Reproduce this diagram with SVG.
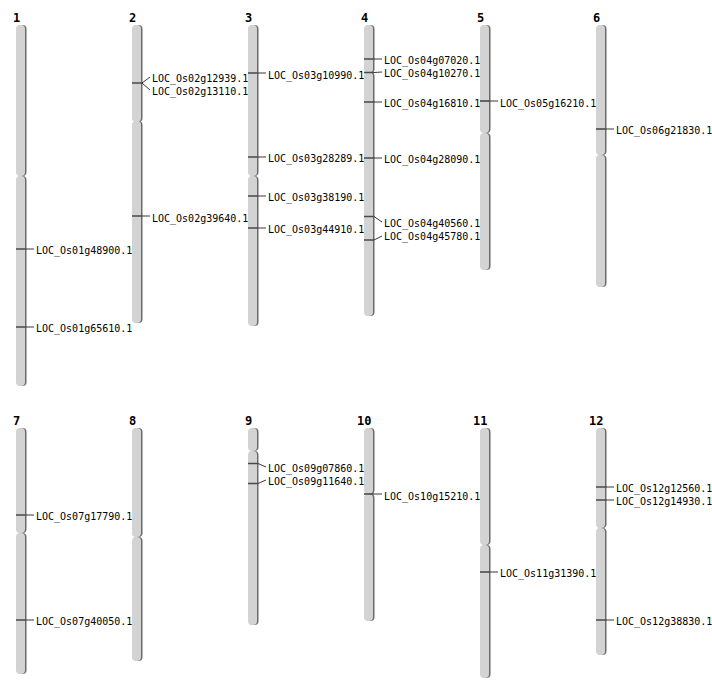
<svg xmlns="http://www.w3.org/2000/svg" width="712" height="700" viewBox="0 0 712 700">
<style>
.sh{fill:#6a6a6a}
.arm{fill:#d3d3d3}
.ttl{font-family:"DejaVu Sans Mono","Liberation Mono",monospace;font-size:12px;font-weight:bold;fill:#000}
.lbl{font-family:"DejaVu Sans Mono","Liberation Mono",monospace;font-size:10px;fill:#000}
.mk{stroke:#4a4a4a;stroke-width:1.6;fill:none}
.ln{stroke:#222;stroke-width:0.9;fill:none}
</style>
<rect width="712" height="700" fill="#fff"/>

<!-- Chromosomes -->
<g id="chr1">
<text class="ttl" x="13" y="22">1</text>
<rect class="sh" x="17.5" y="25" width="9" height="151" rx="4"/><rect class="sh" x="17.5" y="176" width="9" height="210" rx="4"/>
<rect class="arm" x="16" y="25" width="9" height="151" rx="4"/><rect class="arm" x="16" y="176" width="9" height="210" rx="4"/>
</g>
<g id="chr2">
<text class="ttl" x="129" y="22">2</text>
<rect class="sh" x="133.5" y="25" width="9" height="97" rx="4"/><rect class="sh" x="133.5" y="121" width="9" height="202" rx="4"/>
<rect class="arm" x="132" y="25" width="9" height="97" rx="4"/><rect class="arm" x="132" y="121" width="9" height="202" rx="4"/>
</g>
<g id="chr3">
<text class="ttl" x="245" y="22">3</text>
<rect class="sh" x="249.5" y="25" width="9" height="151" rx="4"/><rect class="sh" x="249.5" y="176" width="9" height="150" rx="4"/>
<rect class="arm" x="248" y="25" width="9" height="151" rx="4"/><rect class="arm" x="248" y="176" width="9" height="150" rx="4"/>
</g>
<g id="chr4">
<text class="ttl" x="361" y="22">4</text>
<rect class="sh" x="365.5" y="25" width="9" height="48" rx="4"/><rect class="sh" x="365.5" y="72" width="9" height="244" rx="4"/>
<rect class="arm" x="364" y="25" width="9" height="48" rx="4"/><rect class="arm" x="364" y="72" width="9" height="244" rx="4"/>
</g>
<g id="chr5">
<text class="ttl" x="477" y="22">5</text>
<rect class="sh" x="481.5" y="25" width="9" height="108" rx="4"/><rect class="sh" x="481.5" y="133" width="9" height="137" rx="4"/>
<rect class="arm" x="480" y="25" width="9" height="108" rx="4"/><rect class="arm" x="480" y="133" width="9" height="137" rx="4"/>
</g>
<g id="chr6">
<text class="ttl" x="593" y="22">6</text>
<rect class="sh" x="597.5" y="25" width="9" height="130" rx="4"/><rect class="sh" x="597.5" y="155" width="9" height="132" rx="4"/>
<rect class="arm" x="596" y="25" width="9" height="130" rx="4"/><rect class="arm" x="596" y="155" width="9" height="132" rx="4"/>
</g>
<g id="chr7">
<text class="ttl" x="13" y="425">7</text>
<rect class="sh" x="17.5" y="428" width="9" height="105" rx="4"/><rect class="sh" x="17.5" y="533" width="9" height="141" rx="4"/>
<rect class="arm" x="16" y="428" width="9" height="105" rx="4"/><rect class="arm" x="16" y="533" width="9" height="141" rx="4"/>
</g>
<g id="chr8">
<text class="ttl" x="129" y="425">8</text>
<rect class="sh" x="133.5" y="428" width="9" height="109" rx="4"/><rect class="sh" x="133.5" y="537" width="9" height="124" rx="4"/>
<rect class="arm" x="132" y="428" width="9" height="109" rx="4"/><rect class="arm" x="132" y="537" width="9" height="124" rx="4"/>
</g>
<g id="chr9">
<text class="ttl" x="245" y="425">9</text>
<rect class="sh" x="249.5" y="428" width="9" height="23" rx="4"/><rect class="sh" x="249.5" y="451" width="9" height="174" rx="4"/>
<rect class="arm" x="248" y="428" width="9" height="23" rx="4"/><rect class="arm" x="248" y="451" width="9" height="174" rx="4"/>
</g>
<g id="chr10">
<text class="ttl" x="357" y="425">10</text>
<rect class="sh" x="365.5" y="428" width="9" height="66" rx="4"/><rect class="sh" x="365.5" y="494" width="9" height="127" rx="4"/>
<rect class="arm" x="364" y="428" width="9" height="66" rx="4"/><rect class="arm" x="364" y="494" width="9" height="127" rx="4"/>
</g>
<g id="chr11">
<text class="ttl" x="473" y="425">11</text>
<rect class="sh" x="481.5" y="428" width="9" height="117" rx="4"/><rect class="sh" x="481.5" y="545" width="9" height="133" rx="4"/>
<rect class="arm" x="480" y="428" width="9" height="117" rx="4"/><rect class="arm" x="480" y="545" width="9" height="133" rx="4"/>
</g>
<g id="chr12">
<text class="ttl" x="589" y="425">12</text>
<rect class="sh" x="597.5" y="428" width="9" height="100" rx="4"/><rect class="sh" x="597.5" y="528" width="9" height="127" rx="4"/>
<rect class="arm" x="596" y="428" width="9" height="100" rx="4"/><rect class="arm" x="596" y="528" width="9" height="127" rx="4"/>
</g>

<!-- Marker connectors -->
<g id="connectors">
<path class="mk" d="M16 249H26M16 327H26"/>
<path class="ln" d="M26 249H34M26 327H34"/>
<path class="mk" d="M132 83H142M132 216H142"/>
<path class="ln" d="M142 83L150 77M142 83L150 90M142 216H150"/>
<path class="mk" d="M248 73H258M248 157H258M248 196H258M248 228H258"/>
<path class="ln" d="M258 73H266M258 157H266M258 196H266M258 228H266"/>
<path class="mk" d="M364 59H374M364 72.5H374M364 102H374M364 158H374M364 216.5H374M364 240H374"/>
<path class="ln" d="M374 59H382M374 72.5L382 72M374 102H382M374 158H382M374 216.5L382 222M374 240L382 236"/>
<path class="mk" d="M480 101H490"/>
<path class="ln" d="M490 101H498"/>
<path class="mk" d="M596 129H606"/>
<path class="ln" d="M606 129H614"/>
<path class="mk" d="M16 515H26M16 620H26"/>
<path class="ln" d="M26 515H34M26 620H34"/>
<path class="mk" d="M248 463.5H258M248 483.5H258"/>
<path class="ln" d="M258 463.5L266 467M258 483.5L266 480"/>
<path class="mk" d="M364 494H374"/>
<path class="ln" d="M374 494H382"/>
<path class="mk" d="M480 572H490"/>
<path class="ln" d="M490 572H498"/>
<path class="mk" d="M596 487H606M596 500H606M596 620H606"/>
<path class="ln" d="M606 487H614M606 500H614M606 620H614"/>
</g>

<!-- Labels -->
<g id="labels">
<text class="lbl" x="36" y="253.5">LOC_Os01g48900.1</text>
<text class="lbl" x="36" y="331.5">LOC_Os01g65610.1</text>
<text class="lbl" x="152" y="81.5">LOC_Os02g12939.1</text>
<text class="lbl" x="152" y="94.5">LOC_Os02g13110.1</text>
<text class="lbl" x="152" y="221.5">LOC_Os02g39640.1</text>
<text class="lbl" x="268" y="78.5">LOC_Os03g10990.1</text>
<text class="lbl" x="268" y="161.5">LOC_Os03g28289.1</text>
<text class="lbl" x="268" y="200.5">LOC_Os03g38190.1</text>
<text class="lbl" x="268" y="232.5">LOC_Os03g44910.1</text>
<text class="lbl" x="384" y="63.5">LOC_Os04g07020.1</text>
<text class="lbl" x="384" y="76.5">LOC_Os04g10270.1</text>
<text class="lbl" x="384" y="106.5">LOC_Os04g16810.1</text>
<text class="lbl" x="384" y="162.5">LOC_Os04g28090.1</text>
<text class="lbl" x="384" y="226.5">LOC_Os04g40560.1</text>
<text class="lbl" x="384" y="239.5">LOC_Os04g45780.1</text>
<text class="lbl" x="500" y="106.5">LOC_Os05g16210.1</text>
<text class="lbl" x="616" y="133.5">LOC_Os06g21830.1</text>
<text class="lbl" x="36" y="519.5">LOC_Os07g17790.1</text>
<text class="lbl" x="36" y="624.5">LOC_Os07g40050.1</text>
<text class="lbl" x="268" y="471.5">LOC_Os09g07860.1</text>
<text class="lbl" x="268" y="484.5">LOC_Os09g11640.1</text>
<text class="lbl" x="384" y="499.5">LOC_Os10g15210.1</text>
<text class="lbl" x="500" y="576.5">LOC_Os11g31390.1</text>
<text class="lbl" x="616" y="491.5">LOC_Os12g12560.1</text>
<text class="lbl" x="616" y="504.5">LOC_Os12g14930.1</text>
<text class="lbl" x="616" y="624.5">LOC_Os12g38830.1</text>
</g>
</svg>
